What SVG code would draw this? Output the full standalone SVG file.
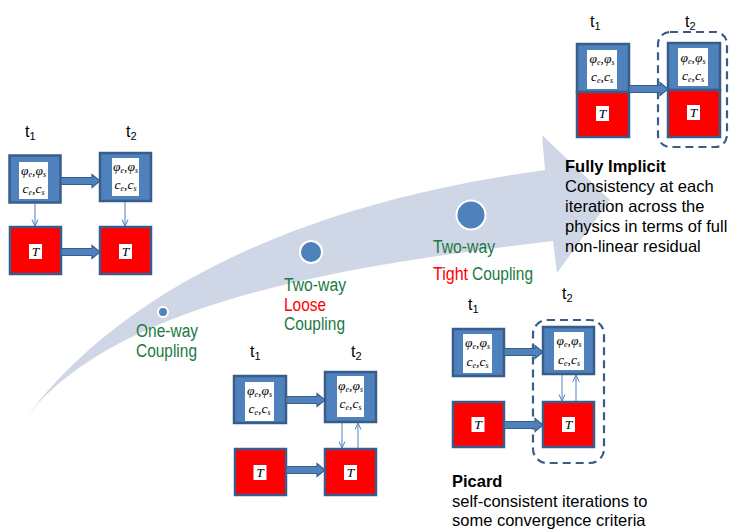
<svg xmlns="http://www.w3.org/2000/svg" width="732" height="529" viewBox="0 0 732 529">
<defs>
<style>
.bx{fill:#4F81BD;stroke:#385D8A;stroke-width:2.5}
.rd{fill:#FF0000;stroke:#385D8A;stroke-width:2.5}
.wh{fill:#FFFFFF}
.m{font-family:"Liberation Serif","DejaVu Serif",serif;font-style:italic;font-size:13.5px;fill:#000;text-anchor:middle}
.sb{font-size:8px}
.tl{font-family:"Liberation Sans",Arial,sans-serif;font-size:16px;fill:#000}
.ts{font-size:11px}
.ta{fill:#4F81BD;stroke:#385D8A;stroke-width:1.2}
.thin{stroke:#4F81BD;stroke-width:1;fill:none;marker-end:url(#v)}
.dash{fill:none;stroke:#385D8A;stroke-width:2.2;stroke-dasharray:8 5}
.lab{font-family:"Liberation Sans",Arial,sans-serif;font-size:18px}
.g{fill:#1A7A40}
.r{fill:#FF0000}
.bk{font-family:"Liberation Sans",Arial,sans-serif;font-size:16.5px;fill:#000}
.b{font-weight:bold}
.dot{fill:#4F81BD;stroke:#FFFFFF;stroke-width:2}
</style>
<marker id="v" viewBox="0 0 8 8" refX="7.5" refY="4" markerWidth="8" markerHeight="8" markerUnits="userSpaceOnUse" orient="auto">
<path d="M1,1 L7.5,4 L1,7" fill="none" stroke="#4F81BD" stroke-width="1"/>
</marker>
</defs>
<rect width="732" height="529" fill="#FFFFFF"/>

<g id="progress-arrow">
<path d="M28,415 C100,320 250,210 545,170 L542,135 L610,200 L557,273 L553,241 C350,265 120,300 28,415 Z" fill="#CFD7E7"/>
<circle class="dot" cx="163" cy="312" r="5"/>
<circle class="dot" cx="311" cy="252" r="11"/>
<circle class="dot" cx="471" cy="215" r="14.5"/>
</g>

<g id="labels">
<text class="lab g" x="136" y="337" textLength="62" lengthAdjust="spacingAndGlyphs">One-way</text>
<text class="lab g" x="136" y="357" textLength="61" lengthAdjust="spacingAndGlyphs">Coupling</text>
<text class="lab g" x="284" y="291" textLength="62" lengthAdjust="spacingAndGlyphs">Two-way</text>
<text class="lab r" x="284" y="311" textLength="42" lengthAdjust="spacingAndGlyphs">Loose</text>
<text class="lab g" x="284" y="330" textLength="61" lengthAdjust="spacingAndGlyphs">Coupling</text>
<text class="lab g" x="433" y="253" textLength="62" lengthAdjust="spacingAndGlyphs">Two-way</text>
<text class="lab r" x="433" y="280" textLength="35" lengthAdjust="spacingAndGlyphs">Tight</text>
<text class="lab g" x="472" y="280" textLength="61" lengthAdjust="spacingAndGlyphs">Coupling</text>
<text class="bk b" x="565" y="172">Fully Implicit</text>
<text class="bk" x="565" y="192">Consistency at each</text>
<text class="bk" x="565" y="212">iteration across the</text>
<text class="bk" x="565" y="232">physics in terms of full</text>
<text class="bk" x="565" y="252">non-linear residual</text>
<text class="bk b" x="452" y="487">Picard</text>
<text class="bk" x="452" y="507">self-consistent iterations to</text>
<text class="bk" x="452" y="526">some convergence criteria</text>
</g>

<g id="time-labels">
<text class="tl" x="25" y="137">t<tspan class="ts" dy="3">1</tspan></text>
<text class="tl" x="126" y="137">t<tspan class="ts" dy="3">2</tspan></text>
<text class="tl" x="590" y="27">t<tspan class="ts" dy="3">1</tspan></text>
<text class="tl" x="685" y="27">t<tspan class="ts" dy="3">2</tspan></text>
<text class="tl" x="250" y="357">t<tspan class="ts" dy="3">1</tspan></text>
<text class="tl" x="351" y="357">t<tspan class="ts" dy="3">2</tspan></text>
<text class="tl" x="468" y="310">t<tspan class="ts" dy="3">1</tspan></text>
<text class="tl" x="562" y="299">t<tspan class="ts" dy="3">2</tspan></text>
</g>

<!-- One-way coupling -->
<g id="ow-flow-t1">
<rect class="bx" x="9.5" y="155.5" width="51" height="47"/>
<rect class="wh" x="19" y="162" width="29" height="37"/>
<text class="m" x="33.5" y="175">φ<tspan class="sb" dy="2">e</tspan><tspan dy="-2">,</tspan>φ<tspan class="sb" dy="2">s</tspan></text>
<text class="m" x="33.5" y="193">c<tspan class="sb" dy="2">e</tspan><tspan dy="-2">,</tspan>c<tspan class="sb" dy="2">s</tspan></text>
</g>
<g id="ow-flow-t2">
<rect class="bx" x="100" y="153" width="51" height="48"/>
<rect class="wh" x="112" y="158" width="27" height="38"/>
<text class="m" x="125.5" y="171">φ<tspan class="sb" dy="2">e</tspan><tspan dy="-2">,</tspan>φ<tspan class="sb" dy="2">s</tspan></text>
<text class="m" x="125.5" y="189">c<tspan class="sb" dy="2">e</tspan><tspan dy="-2">,</tspan>c<tspan class="sb" dy="2">s</tspan></text>
</g>
<g id="ow-temp-t1">
<rect class="rd" x="10" y="227" width="51" height="47"/>
<rect class="wh" x="29" y="244" width="13" height="15"/>
<text class="m" x="35.5" y="256">T</text>
</g>
<g id="ow-temp-t2">
<rect class="rd" x="100" y="227" width="51" height="47"/>
<rect class="wh" x="119" y="244" width="13" height="15"/>
<text class="m" x="125.5" y="256">T</text>
</g>

<!-- Fully implicit -->
<g id="fi-group-t2">
<rect class="dash" x="658" y="32" width="69" height="115" rx="12"/>
</g>
<g id="fi-flow-t1">
<rect class="bx" x="577" y="44" width="52" height="48"/>
<rect class="wh" x="587" y="50" width="30" height="39"/>
<text class="m" x="602" y="63">φ<tspan class="sb" dy="2">e</tspan><tspan dy="-2">,</tspan>φ<tspan class="sb" dy="2">s</tspan></text>
<text class="m" x="602" y="81">c<tspan class="sb" dy="2">e</tspan><tspan dy="-2">,</tspan>c<tspan class="sb" dy="2">s</tspan></text>
</g>
<g id="fi-temp-t1">
<rect class="rd" x="577" y="92" width="52" height="45"/>
<rect class="wh" x="596" y="106" width="13" height="15"/>
<text class="m" x="602.5" y="118">T</text>
</g>
<g id="fi-flow-t2">
<rect class="bx" x="668" y="43" width="52" height="47"/>
<rect class="wh" x="678" y="48" width="30" height="38"/>
<text class="m" x="693" y="62">φ<tspan class="sb" dy="2">e</tspan><tspan dy="-2">,</tspan>φ<tspan class="sb" dy="2">s</tspan></text>
<text class="m" x="693" y="80">c<tspan class="sb" dy="2">e</tspan><tspan dy="-2">,</tspan>c<tspan class="sb" dy="2">s</tspan></text>
</g>
<g id="fi-temp-t2">
<rect class="rd" x="668" y="90" width="52" height="47"/>
<rect class="wh" x="687" y="105" width="13" height="15"/>
<text class="m" x="693.5" y="117">T</text>
</g>

<!-- Two-way loose -->
<g id="lo-flow-t1">
<rect class="bx" x="234" y="376" width="52" height="47"/>
<rect class="wh" x="245" y="382" width="29" height="39"/>
<text class="m" x="259.5" y="395">φ<tspan class="sb" dy="2">e</tspan><tspan dy="-2">,</tspan>φ<tspan class="sb" dy="2">s</tspan></text>
<text class="m" x="259.5" y="413">c<tspan class="sb" dy="2">e</tspan><tspan dy="-2">,</tspan>c<tspan class="sb" dy="2">s</tspan></text>
</g>
<g id="lo-flow-t2">
<rect class="bx" x="325" y="372" width="51" height="50"/>
<rect class="wh" x="337" y="376" width="27" height="41"/>
<text class="m" x="350.5" y="390">φ<tspan class="sb" dy="2">e</tspan><tspan dy="-2">,</tspan>φ<tspan class="sb" dy="2">s</tspan></text>
<text class="m" x="350.5" y="408">c<tspan class="sb" dy="2">e</tspan><tspan dy="-2">,</tspan>c<tspan class="sb" dy="2">s</tspan></text>
</g>
<g id="lo-temp-t1">
<rect class="rd" x="235" y="449" width="51" height="46"/>
<rect class="wh" x="253.5" y="465" width="13" height="15"/>
<text class="m" x="260" y="477">T</text>
</g>
<g id="lo-temp-t2">
<rect class="rd" x="325" y="449" width="51" height="46"/>
<rect class="wh" x="344" y="465" width="13" height="15"/>
<text class="m" x="350.5" y="477">T</text>
</g>

<!-- Picard -->
<g id="pi-group-t2">
<rect class="dash" x="533" y="320" width="71" height="143" rx="14"/>
</g>
<g id="pi-flow-t1">
<rect class="bx" x="453" y="329" width="51" height="47"/>
<rect class="wh" x="463" y="334" width="29" height="39"/>
<text class="m" x="477.5" y="347">φ<tspan class="sb" dy="2">e</tspan><tspan dy="-2">,</tspan>φ<tspan class="sb" dy="2">s</tspan></text>
<text class="m" x="477.5" y="366">c<tspan class="sb" dy="2">e</tspan><tspan dy="-2">,</tspan>c<tspan class="sb" dy="2">s</tspan></text>
</g>
<g id="pi-flow-t2">
<rect class="bx" x="543" y="327" width="51" height="47"/>
<rect class="wh" x="554" y="332" width="30" height="38"/>
<text class="m" x="569" y="345">φ<tspan class="sb" dy="2">e</tspan><tspan dy="-2">,</tspan>φ<tspan class="sb" dy="2">s</tspan></text>
<text class="m" x="569" y="364">c<tspan class="sb" dy="2">e</tspan><tspan dy="-2">,</tspan>c<tspan class="sb" dy="2">s</tspan></text>
</g>
<g id="pi-temp-t1">
<rect class="rd" x="453" y="402" width="51" height="45"/>
<rect class="wh" x="471.5" y="417" width="13" height="15"/>
<text class="m" x="478" y="429">T</text>
</g>
<g id="pi-temp-t2">
<rect class="rd" x="543" y="402" width="51" height="45"/>
<rect class="wh" x="562" y="417" width="13" height="15"/>
<text class="m" x="568.5" y="429">T</text>
</g>

<g id="connectors">
<polygon class="ta" points="61,177.5 92,177.5 92,174.5 100,181 92,187.5 92,184.5 61,184.5"/>
<polygon class="ta" points="61,248.5 92,248.5 92,245.5 100,252 92,258.5 92,255.5 61,255.5"/>
<line class="thin" x1="35" y1="204" x2="35" y2="226"/>
<line class="thin" x1="125" y1="202" x2="125" y2="226"/>

<polygon class="ta" points="629,85.5 660,85.5 660,82.5 668,89 660,95.5 660,92.5 629,92.5"/>

<polygon class="ta" points="286,396.5 317,396.5 317,393.5 325,400 317,406.5 317,403.5 286,403.5"/>
<polygon class="ta" points="286,466.5 317,466.5 317,463.5 325,470 317,476.5 317,473.5 286,473.5"/>
<line class="thin" x1="342" y1="423" x2="342" y2="448"/>
<line class="thin" x1="358" y1="448" x2="358" y2="423"/>

<polygon class="ta" points="504,348.5 535,348.5 535,345.5 543,352 535,358.5 535,355.5 504,355.5"/>
<polygon class="ta" points="504,421.5 535,421.5 535,418.5 543,425 535,431.5 535,428.5 504,428.5"/>
<line class="thin" x1="562" y1="375" x2="562" y2="401"/>
<line class="thin" x1="576" y1="401" x2="576" y2="375"/>
</g>
</svg>
